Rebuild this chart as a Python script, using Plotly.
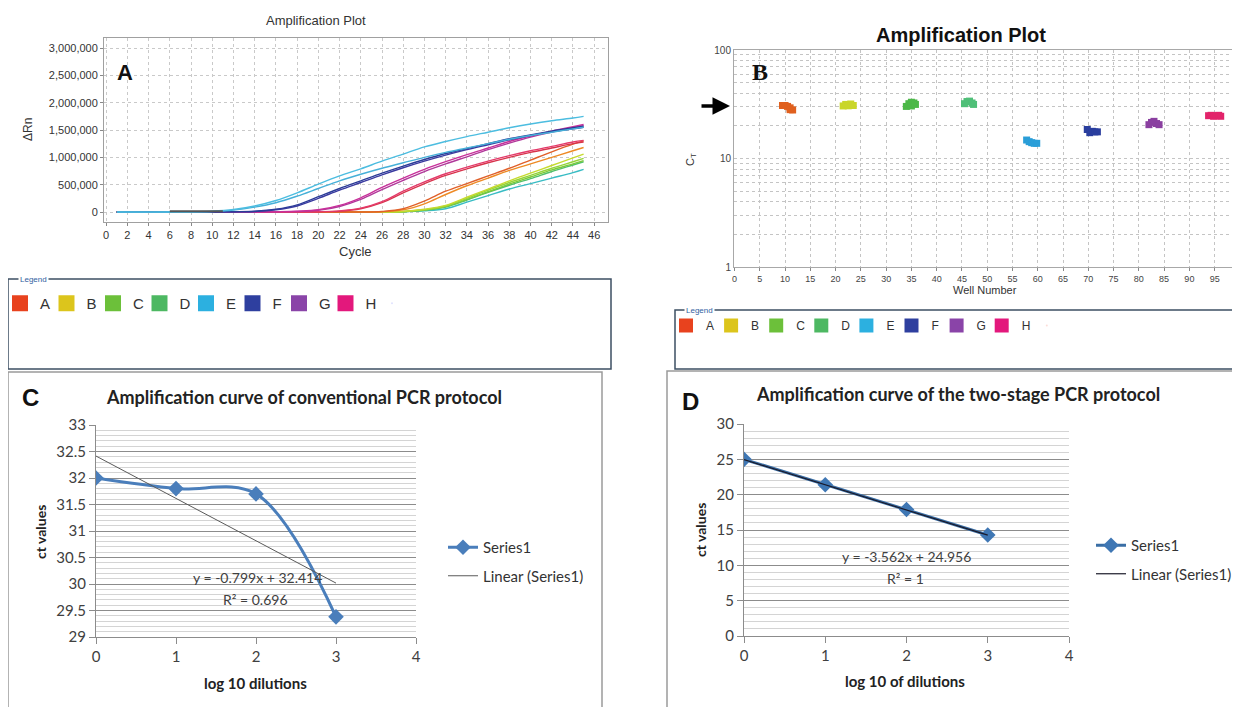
import plotly.graph_objects as go

W, H = 1240, 707
OFF = 8  # the page body margin shifts the figure by 8 px


def fx(p):
    return (p - OFF) / W


def fy(p):
    return 1 - (p - OFF) / H


# ---------------- Panel A: amplification curves (ΔRn vs cycle) ----------------
cycles = [1, 6, 10, 12, 14, 16, 18, 20, 22, 24, 26, 28, 30, 32, 34, 36, 38, 40, 42, 44, 45]
rn_E1 = [0, 0, 15000, 45000, 110000, 210000, 350000, 510000, 660000, 790000, 930000, 1060000, 1190000, 1290000, 1380000, 1460000, 1540000, 1610000, 1670000, 1720000, 1750000]
rn_E2 = [0, 0, 10000, 35000, 90000, 170000, 290000, 430000, 570000, 690000, 800000, 900000, 1000000, 1090000, 1170000, 1250000, 1330000, 1400000, 1460000, 1520000, 1550000]
rn_F1 = [0, 0, 0, 5000, 15000, 50000, 130000, 280000, 430000, 570000, 710000, 840000, 960000, 1070000, 1160000, 1250000, 1340000, 1410000, 1480000, 1540000, 1570000]
rn_F2 = [0, 0, 0, 5000, 10000, 40000, 110000, 250000, 400000, 540000, 680000, 810000, 930000, 1040000, 1140000, 1230000, 1320000, 1400000, 1470000, 1520000, 1550000]
rn_G1 = [0, 0, 0, 0, 0, 5000, 15000, 40000, 120000, 260000, 450000, 620000, 780000, 920000, 1050000, 1170000, 1290000, 1390000, 1480000, 1560000, 1600000]
rn_G2 = [0, 0, 0, 0, 0, 5000, 10000, 30000, 100000, 230000, 410000, 580000, 740000, 880000, 1010000, 1140000, 1260000, 1370000, 1460000, 1540000, 1580000]
rn_H1 = [0, 0, 0, 0, 0, 0, 0, 5000, 20000, 70000, 190000, 380000, 550000, 700000, 820000, 930000, 1030000, 1120000, 1200000, 1280000, 1310000]
rn_H2 = [0, 0, 0, 0, 0, 0, 0, 5000, 15000, 60000, 170000, 350000, 520000, 670000, 790000, 900000, 1000000, 1090000, 1170000, 1250000, 1280000]
rn_A1 = [0, 0, 0, 0, 0, 0, 0, 0, 0, 0, 5000, 40000, 150000, 320000, 480000, 620000, 760000, 880000, 1000000, 1120000, 1180000]
rn_A2 = [0, 0, 0, 0, 0, 0, 0, 0, 0, 0, 10000, 60000, 200000, 380000, 520000, 660000, 800000, 950000, 1100000, 1240000, 1300000]
rn_B1 = [0, 0, 0, 0, 0, 0, 0, 0, 0, 0, 0, 10000, 50000, 120000, 270000, 420000, 570000, 710000, 850000, 990000, 1060000]
rn_C1 = [0, 0, 0, 0, 0, 0, 0, 0, 0, 0, 0, 10000, 40000, 110000, 250000, 400000, 540000, 670000, 800000, 920000, 980000]
rn_C2 = [0, 0, 0, 0, 0, 0, 0, 0, 0, 0, 0, 5000, 40000, 100000, 230000, 370000, 510000, 640000, 770000, 880000, 940000]
rn_D1 = [0, 0, 0, 0, 0, 0, 0, 0, 0, 0, 0, 5000, 30000, 90000, 220000, 360000, 490000, 610000, 740000, 860000, 920000]
rn_D2 = [0, 0, 0, 0, 0, 0, 0, 0, 0, 0, 0, 5000, 20000, 60000, 180000, 300000, 420000, 520000, 620000, 720000, 780000]
base_cycles = [6, 8, 10, 11]
base_rn = [12000, 16000, 16000, 12000]

# ---------------- Panel B: Ct per well ----------------
wells_A = [9.5, 10, 10.5, 11, 11, 11.5]
ct_A = [30.8, 30.8, 30.2, 29.3, 28.2, 28.0]
wells_B = [21.5, 22, 22.5, 23, 23.5]
ct_B = [30.5, 31.5, 30.6, 31.8, 30.8]
wells_C = [34, 34.5, 35, 35, 35.5, 35.8]
ct_C = [30.2, 32.0, 33.0, 30.5, 32.5, 31.5]
wells_D = [45.5, 46, 46.5, 47, 47.3]
ct_D = [32.0, 33.5, 33.8, 32.5, 31.5]
wells_E = [57.8, 58.3, 58.8, 59.3, 59.8]
ct_E = [14.8, 14.3, 14.0, 13.8, 13.8]
wells_F = [69.8, 70.3, 70.8, 71.3, 71.8]
ct_F = [18.5, 17.3, 17.8, 17.6, 17.6]
wells_G = [82, 82.5, 83, 83.5, 84]
ct_G = [20.5, 21.5, 22.0, 21.0, 20.5]
wells_H = [93.8, 94.3, 94.8, 95.3, 95.8, 96.2]
ct_H = [24.8, 25.0, 24.5, 24.8, 25.0, 24.5]
well_ticks = [0, 5, 10, 15, 20, 25, 30, 35, 40, 45, 50, 55, 60, 65, 70, 75, 80, 85, 90, 95]

group_names = ["A", "B", "C", "D", "E", "F", "G", "H"]
group_colors = ["#e8421e", "#dcc51c", "#6cc03a", "#4db862", "#2cb0e0", "#2e3f9f", "#8a44a8", "#e3187c"]
b_wells = [wells_A, wells_B, wells_C, wells_D, wells_E, wells_F, wells_G, wells_H]
b_ct = [ct_A, ct_B, ct_C, ct_D, ct_E, ct_F, ct_G, ct_H]
b_colors = ["#e0601e", "#c9d62a", "#4cb848", "#4fbf78", "#2a9ed8", "#2a3e9e", "#8a3fa0", "#e2236a"]

# ---------------- Panel C / D: standard curves ----------------
dil_c = [0, 1, 2, 3]
ct_c = [32.0, 31.8, 31.7, 29.38]
trend_c_x = [0, 3]
trend_c_y = [32.414, 30.017]

dil_d = [0, 1, 2, 3]
ct_d = [25.0, 21.4, 17.9, 14.3]
trend_d_x = [0, 3]
trend_d_y = [24.956, 14.27]

fig = go.Figure()

# Panel A lines
a_series = [
    (rn_D2, "#38bcc4"), (rn_D1, "#52c06a"), (rn_C2, "#7cca3a"), (rn_C1, "#95d43a"), (rn_B1, "#c6da2e"),
    (rn_A1, "#ee8a24"), (rn_A2, "#e0602a"), (rn_H2, "#d8344c"), (rn_H1, "#e43a6a"),
    (rn_G2, "#b0389a"), (rn_G1, "#c8309a"), (rn_F2, "#3a3aa0"), (rn_F1, "#2c3c98"),
    (rn_E2, "#46b0d8"), (rn_E1, "#4cbde0"),
]
for vals, col in a_series:
    fig.add_trace(go.Scatter(x=cycles, y=vals, mode="lines", line=dict(color=col, width=1.4, shape="spline"),
                             xaxis="x", yaxis="y", showlegend=False, hoverinfo="skip"))
fig.add_trace(go.Scatter(x=base_cycles, y=base_rn, mode="lines", line=dict(color="#555555", width=2),
                         xaxis="x", yaxis="y", showlegend=False, hoverinfo="skip"))

# Panel B markers
for wl, ct, col in zip(b_wells, b_ct, b_colors):
    fig.add_trace(go.Scatter(x=wl, y=ct, mode="markers", marker=dict(symbol="square", size=7, color=col),
                             xaxis="x2", yaxis="y2", showlegend=False, hoverinfo="skip"))

# Legend swatches for the A and B legend boxes
for nm, col in zip(group_names, group_colors):
    fig.add_trace(go.Scatter(x=[None], y=[None], mode="markers", name=nm,
                             marker=dict(symbol="square", size=16, color=col, line=dict(width=0)),
                             xaxis="x", yaxis="y", legend="legend3"))
    fig.add_trace(go.Scatter(x=[None], y=[None], mode="markers", name=nm,
                             marker=dict(symbol="square", size=14, color=col, line=dict(width=0)),
                             xaxis="x2", yaxis="y2", legend="legend4"))
# invisible trailing entries so the last label is not clipped
for lg in ("legend3", "legend4"):
    fig.add_trace(go.Scatter(x=[None], y=[None], mode="markers", name=" ",
                             marker=dict(size=1, opacity=0), xaxis="x", yaxis="y", legend=lg))

# Panel C
fig.add_trace(go.Scatter(x=dil_c, y=ct_c, mode="lines+markers", name="Series1",
                         line=dict(color="#4a7ebb", width=3, shape="spline", smoothing=1.0),
                         marker=dict(symbol="diamond", size=12, color="#4a7ebb"),
                         xaxis="x3", yaxis="y3", legend="legend", legendgroup="c1"))
fig.add_trace(go.Scatter(x=trend_c_x, y=trend_c_y, mode="lines", name="Linear (Series1)",
                         line=dict(color="#5a5a5a", width=1),
                         xaxis="x3", yaxis="y3", legend="legend", legendgroup="c2"))

# Panel D
fig.add_trace(go.Scatter(x=dil_d, y=ct_d, mode="lines+markers", name="Series1",
                         line=dict(color="#3a6ea5", width=3),
                         marker=dict(symbol="diamond", size=12, color="#3f77b4"),
                         xaxis="x4", yaxis="y4", legend="legend2", legendgroup="d1"))
fig.add_trace(go.Scatter(x=trend_d_x, y=trend_d_y, mode="lines", name="Linear (Series1)",
                         line=dict(color="#1a1a2a", width=1.2),
                         xaxis="x4", yaxis="y4", legend="legend2", legendgroup="d2"))

calib = "Lato"
tick_small = dict(family="Arial", size=11, color="#333333")

log_vals = [1, 2, 3, 4, 5, 6, 7, 8, 9, 10, 20, 30, 40, 50, 60, 70, 80, 90, 100]
log_text = ["1" if v == 1 else "10" if v == 10 else "100" if v == 100 else "" for v in log_vals]

fig.update_layout(
    width=W, height=H, margin=dict(l=0, r=0, t=0, b=0, autoexpand=False),
    paper_bgcolor="white", plot_bgcolor="white",
    xaxis=dict(domain=[fx(104), fx(608)], range=[-0.2, 47.3], dtick=2, tick0=0,
               showgrid=True, griddash="dot", gridcolor="#c9c9c9", zeroline=False,
               showline=True, mirror=True, linecolor="#a0a0a0", ticks="outside", ticklen=3,
               tickcolor="#888", tickfont=tick_small, anchor="y"),
    yaxis=dict(domain=[fy(222), fy(38)], range=[-183000, 3183000], dtick=500000, tickformat=",d",
               showgrid=True, griddash="dot", gridcolor="#c9c9c9", zeroline=False,
               showline=True, mirror=True, linecolor="#a0a0a0", ticks="outside", ticklen=3,
               tickcolor="#888", tickfont=tick_small, anchor="x"),
    xaxis2=dict(domain=[fx(734), 1.0], range=[-0.1, 101.6], tickvals=well_ticks,
                showgrid=True, griddash="dot", gridcolor="#c4c4c4", zeroline=False,
                showline=True, mirror=True, linecolor="#a8a8a8", ticks="outside", ticklen=3,
                tickcolor="#888", tickfont=dict(family="Arial", size=9, color="#444"), anchor="y2"),
    yaxis2=dict(domain=[fy(267), fy(50)], type="log", range=[0, 2], tickvals=log_vals, ticktext=log_text,
                showgrid=True, griddash="dot", gridcolor="#c4c4c4", zeroline=False,
                showline=True, mirror=True, linecolor="#a8a8a8", ticks="",
                tickfont=dict(family="Arial", size=10, color="#444"), anchor="x2"),
    xaxis3=dict(domain=[fx(96), fx(416)], range=[0, 4], dtick=1, showgrid=False, zeroline=False,
                showline=True, linecolor="#8c8c8c", ticks="outside", ticklen=6, tickcolor="#8c8c8c",
                tickfont=dict(family=calib, size=15, color="#404040"), anchor="y3"),
    yaxis3=dict(domain=[fy(637), fy(425)], range=[29, 33], dtick=0.5, showgrid=True, gridcolor="#8c8c8c",
                minor=dict(dtick=0.1, showgrid=True, gridcolor="#d4d4d4", ticks=""),
                zeroline=False, showline=True, linecolor="#8c8c8c", ticks="outside", ticklen=6,
                tickcolor="#8c8c8c", tickfont=dict(family=calib, size=15, color="#404040"), anchor="x3"),
    xaxis4=dict(domain=[fx(744), fx(1069)], range=[0, 4], dtick=1, showgrid=False, zeroline=False,
                showline=True, linecolor="#8c8c8c", ticks="outside", ticklen=6, tickcolor="#8c8c8c",
                tickfont=dict(family=calib, size=15, color="#404040"), anchor="y4"),
    yaxis4=dict(domain=[fy(636), fy(424)], range=[0, 30], dtick=5, showgrid=True, gridcolor="#8c8c8c",
                minor=dict(dtick=1, showgrid=True, gridcolor="#d4d4d4", ticks=""),
                zeroline=False, showline=True, linecolor="#8c8c8c", ticks="outside", ticklen=6,
                tickcolor="#8c8c8c", tickfont=dict(family=calib, size=15, color="#404040"), anchor="x4"),
    legend=dict(x=fx(443), y=fy(531), xanchor="left", yanchor="top", bgcolor="rgba(0,0,0,0)",
                font=dict(family=calib, size=15, color="#333"), traceorder="grouped", tracegroupgap=6),
    legend2=dict(x=fx(1091), y=fy(529), xanchor="left", yanchor="top", bgcolor="rgba(0,0,0,0)",
                 font=dict(family=calib, size=15, color="#333"), traceorder="grouped", tracegroupgap=6),
    legend3=dict(x=fx(0), y=fy(287), xanchor="left", yanchor="top", orientation="h", bgcolor="rgba(0,0,0,0)",
                 entrywidth=1.5, entrywidthmode="pixels", font=dict(family="Arial", size=15, color="#333")),
    legend4=dict(x=fx(666), y=fy(311), xanchor="left", yanchor="top", orientation="h", bgcolor="rgba(0,0,0,0)",
                 entrywidth=0.1, entrywidthmode="pixels", font=dict(family="Arial", size=12, color="#333")),
)


def ann(x, y, text, size=12, family="Arial", color="#222", angle=0, xanchor="center", bg=None):
    d = dict(x=fx(x), y=fy(y), xref="paper", yref="paper", text=text, showarrow=False,
             font=dict(size=size, family=family, color=color), textangle=angle,
             xanchor=xanchor, yanchor="middle")
    if bg:
        d["bgcolor"] = bg
    return d


annotations = [
    # Panel A
    ann(316, 20, "Amplification Plot", 13, "Arial", "#333"),
    ann(125, 73, "<b>A</b>", 22, "Arial", "#111"),
    ann(28, 130, "ΔRn", 12, "Arial", "#333", angle=-90),
    ann(355, 251, "Cycle", 13, "Arial", "#333"),
    ann(33, 279, "Legend", 8, "Arial", "#3060a0", bg="white"),
    # Panel B
    ann(961, 35, "<b>Amplification Plot</b>", 20, "Arial", "#111"),
    ann(760, 72, "<b>B</b>", 24, "Liberation Serif", "#111"),
    ann(691, 160, "C<sub>T</sub>", 11, "Arial", "#333", angle=-90),
    ann(985, 290, "Well Number", 11, "Arial", "#333"),
    ann(699, 310, "Legend", 8, "Arial", "#3060a0", bg="white"),
    # Panel C
    ann(30, 398, "<b>C</b>", 24, "Arial", "#111"),
    ann(304, 397, "<b>Amplification curve of conventional PCR protocol</b>", 18, calib, "#222"),
    ann(40, 532, "<b>ct values</b>", 14, calib, "#222", angle=-90),
    ann(255, 683, "<b>log 10 dilutions</b>", 15, calib, "#222"),
    ann(258, 577, "y = -0.799x + 32.414", 14, calib, "#404040"),
    ann(255, 599, "R² = 0.696", 14, calib, "#404040"),
    # Panel D
    ann(690, 401, "<b>D</b>", 24, "Arial", "#111"),
    ann(958, 394, "<b>Amplification curve of the two-stage PCR protocol</b>", 18, calib, "#222"),
    ann(700, 530, "<b>ct values</b>", 14, calib, "#222", angle=-90),
    ann(905, 681, "<b>log 10 of dilutions</b>", 15, calib, "#222"),
    ann(906, 556, "y = -3.562x + 24.956", 14, calib, "#404040"),
    ann(905, 578, "R² = 1", 14, calib, "#404040"),
]
# Arrow pointing at the threshold level in panel B
annotations.append(dict(x=fx(730), y=fy(106), xref="paper", yref="paper", ax=-30, ay=0, text="",
                        showarrow=True, arrowhead=2, arrowsize=1, arrowwidth=3.5, arrowcolor="#000"))
fig.update_layout(annotations=annotations)


def box(x0, y0, x1, y1, color, width):
    return dict(type="rect", xref="paper", yref="paper", x0=fx(x0), x1=fx(x1), y0=fy(y1), y1=fy(y0),
                line=dict(color=color, width=width), fillcolor="rgba(0,0,0,0)", layer="above")


fig.update_layout(shapes=[
    box(8, 279, 611, 369, "#3d4f63", 1.5),
    box(675, 310, 1260, 369, "#3d4f63", 1.5),
    box(8, 372, 602, 730, "#9a9a9a", 1.5),
    box(667, 371, 1260, 730, "#9a9a9a", 1.5),
])

fig.write_html("out.html")
